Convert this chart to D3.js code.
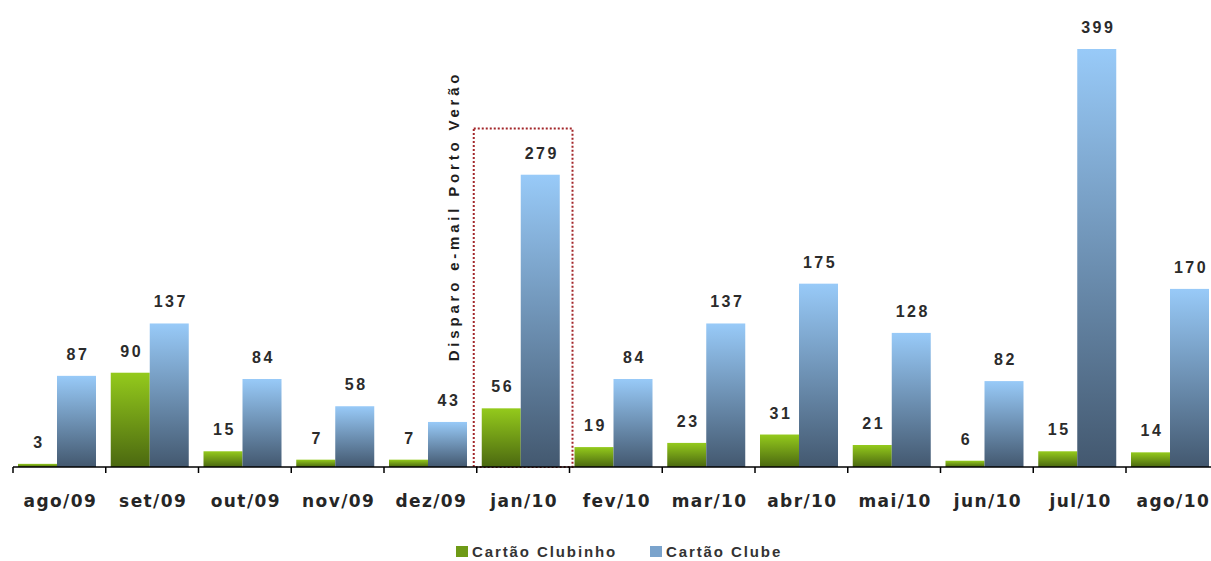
<!DOCTYPE html>
<html>
<head>
<meta charset="utf-8">
<script src="https://cdn.jsdelivr.net/npm/d3@7"></script>
<style>
  body { margin: 0; background: #fff; }
  svg { display: block; }
</style>
</head>
<body>
<div id="vis"></div>
<script>
// ----- DATA ----- //
const months = ["ago/09", "set/09", "out/09", "nov/09", "dez/09", "jan/10", "fev/10",
  "mar/10", "abr/10", "mai/10", "jun/10", "jul/10", "ago/10"];
const seriesNames = ["Cartão Clubinho", "Cartão Clube"];
const clubinho = [3, 90, 15, 7, 7, 56, 19, 23, 31, 21, 6, 15, 14];
const clube = [87, 137, 84, 58, 43, 279, 84, 137, 175, 128, 82, 399, 170];
const highlightMonth = "jan/10";
const highlightTop = 323;
const annotationText = "Disparo e-mail Porto Verão";

const width = 1211, height = 561;
const baseline = 467;

const rows = months.map((m, i) => ({ month: m, values: [clubinho[i], clube[i]] }));

const svg = d3.select("#vis")
  .append("svg")
  .attr("width", width)
  .attr("height", height);

// gradients
const defs = svg.append("defs");
const grads = [
  { id: "gGreen", top: "#94ca1c", bottom: "#4b6810" },
  { id: "gBlue", top: "#98caf8", bottom: "#43586f" }
];
grads.forEach(g => {
  let lg = defs.append("linearGradient")
    .attr("id", g.id)
    .attr("x1", 0).attr("y1", 0).attr("x2", 0).attr("y2", 1);
  lg.append("stop").attr("offset", "0%").attr("stop-color", g.top);
  lg.append("stop").attr("offset", "100%").attr("stop-color", g.bottom);
});
const fills = ["url(#gGreen)", "url(#gBlue)"];
const legendFills = ["#6e9a16", "#7aa3cc"];

// ----- SCALES ----- //
let x = d3.scaleBand()
  .domain(months)
  .range([13, 13 + 13 * 92.75]);

let x1 = d3.scaleBand()
  .domain([0, 1])
  .range([5, 83]);

let y = d3.scaleLinear()
  .domain([0, 399])
  .range([baseline, 49]);

// ----- HIGHLIGHT BOX ----- //
svg.append("rect")
  .attr("x", x(highlightMonth) - 3)
  .attr("y", y(highlightTop))
  .attr("width", x.bandwidth() + 6)
  .attr("height", y(0) - y(highlightTop))
  .attr("fill", "none")
  .attr("stroke", "#a3262a")
  .attr("stroke-width", 2)
  .attr("stroke-dasharray", "2,2");

svg.append("text")
  .attr("transform", `translate(${x(highlightMonth) - 18},${216}) rotate(-90)`)
  .attr("text-anchor", "middle")
  .attr("font-family", "Liberation Sans, Arial, sans-serif")
  .attr("font-weight", "bold")
  .attr("font-size", 15)
  .attr("letter-spacing", "3.8px")
  .attr("fill", "#1e1e1e")
  .text(annotationText);

// ----- BARS ----- //
let groups = svg.selectAll(".grp")
  .data(rows)
  .join("g")
  .attr("class", "grp")
  .attr("transform", d => `translate(${x(d.month)},0)`);

groups.selectAll("rect")
  .data(d => d.values.map((v, k) => ({ k: k, v: v })))
  .join("rect")
  .attr("x", d => x1(d.k))
  .attr("y", d => y(d.v))
  .attr("width", x1.bandwidth())
  .attr("height", d => y(0) - y(d.v))
  .attr("fill", d => fills[d.k]);

groups.selectAll("text.val")
  .data(d => d.values.map((v, k) => ({ k: k, v: v })))
  .join("text")
  .attr("class", "val")
  .attr("x", d => x1(d.k) + x1.bandwidth() / 2 + 1.5)
  .attr("y", d => y(d.v) - 16)
  .attr("text-anchor", "middle")
  .attr("font-family", "Liberation Sans, Arial, sans-serif")
  .attr("font-weight", "bold")
  .attr("font-size", 16)
  .attr("letter-spacing", "2.5px")
  .attr("fill", "#2b2b2b")
  .text(d => d.v);

// ----- AXIS ----- //
let xAxis = d3.axisBottom(x).tickSize(0).tickPadding(0);
let xAxisGroup = svg.append("g")
  .attr("transform", `translate(0,${baseline})`)
  .call(xAxis);

xAxisGroup.select(".domain").remove();
xAxisGroup.append("line")
  .attr("x1", 13).attr("x2", width)
  .attr("y1", 0).attr("y2", 0)
  .attr("stroke", "#000")
  .attr("stroke-width", 1.5);

xAxisGroup.selectAll(".bound")
  .data(months)
  .join("line")
  .attr("class", "bound")
  .attr("x1", d => x(d)).attr("x2", d => x(d))
  .attr("y1", 0).attr("y2", 6)
  .attr("stroke", "#000")
  .attr("stroke-width", 1.5);

xAxisGroup.selectAll(".tick text")
  .attr("y", 40)
  .attr("dy", 0)
  .attr("dx", 1)
  .attr("font-family", "DejaVu Sans, Verdana, sans-serif")
  .attr("font-weight", "bold")
  .attr("font-size", 17)
  .attr("letter-spacing", "1.4px")
  .attr("fill", "#262626");

// ----- LEGEND ----- //
const legendX = [456, 650];
let legend = svg.selectAll(".leg")
  .data(seriesNames)
  .join("g")
  .attr("class", "leg")
  .attr("transform", (d, i) => `translate(${legendX[i]},546)`);

legend.append("rect")
  .attr("width", 12)
  .attr("height", 11)
  .attr("fill", (d, i) => legendFills[i]);

legend.append("text")
  .attr("x", 16)
  .attr("y", 11)
  .attr("font-family", "Liberation Sans, Arial, sans-serif")
  .attr("font-weight", "bold")
  .attr("font-size", 15)
  .attr("letter-spacing", "1.9px")
  .attr("fill", "#333")
  .text(d => d);
</script>
</body>
</html>
